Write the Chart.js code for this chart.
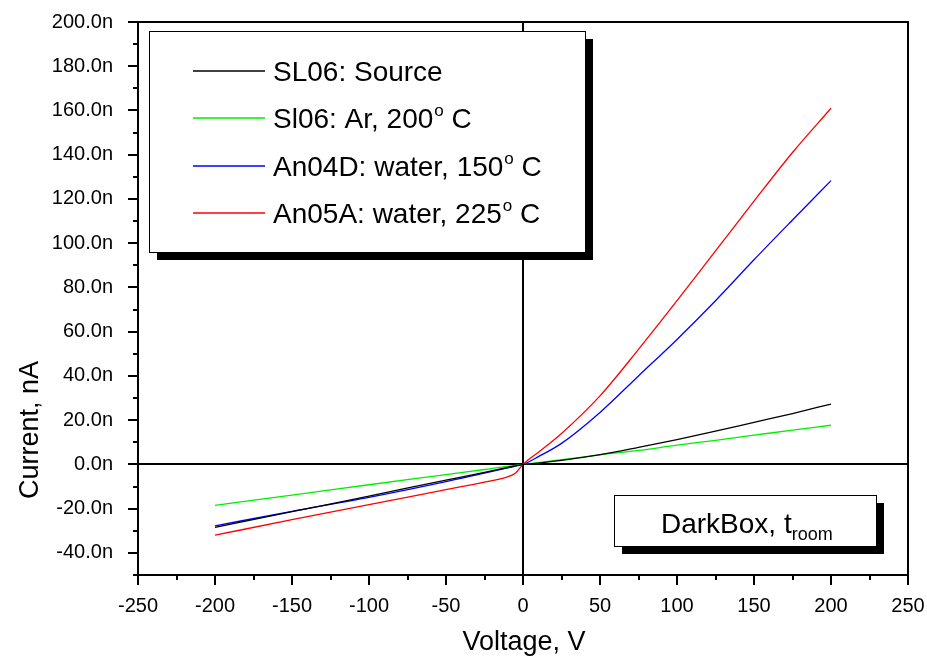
<!DOCTYPE html>
<html>
<head>
<meta charset="utf-8">
<script src="https://cdn.jsdelivr.net/npm/chart.js@4.4.0/dist/chart.umd.min.js"></script>
<style>
  html, body { margin: 0; padding: 0; background: #fff; }
  #wrap { width: 927px; height: 659px; }
</style>
</head>
<body>
<div id="wrap"><canvas id="ivChart" width="927" height="659"></canvas></div>
<script>
// I-V curves, current in nA
const voltage = [-200, -150, -100, -50, -25, -10, -5, 0, 10, 25, 50, 75, 100, 125, 150, 175, 200];
const sl06Source = [-28.5, -21.4, -14.3, -7.1, -3.6, -1.4, -0.7, 0, 0.6, 1.8, 4.4, 7.7, 11.2, 15, 19, 23, 27.3];
const sl06Ar = [-18.5, -13.9, -9.2, -4.6, -2.3, -0.9, -0.5, 0, 0.8, 2.1, 4.3, 6.3, 8.7, 10.9, 13.2, 15.5, 17.7];
const an04d = [-27.8, -21.2, -14.9, -7.8, -3.9, -1.6, -0.8, 0, 3.5, 9.5, 23.5, 40, 56.5, 74, 92.5, 110.5, 128.3];
const an05a = [-32, -25, -18.2, -11.4, -8, -5.6, -4, 0, 5.5, 14, 31, 52, 74, 96.5, 119, 141, 161];

const seriesLabels = ['SL06: Source', 'Sl06: Ar, 200^o C', 'An04D: water, 150^o C', 'An05A: water, 225^o C'];
const seriesColors = ['#000000', '#00ee00', '#0000ff', '#ff0000'];

const yTickValues = [-40, -20, 0, 20, 40, 60, 80, 100, 120, 140, 160, 180, 200];
const xTickValues = [-250, -200, -150, -100, -50, 0, 50, 100, 150, 200, 250];

const FONT = '"Liberation Sans", Arial, sans-serif';

function pts(ys) {
    return voltage.map((v, i) => ({ x: v, y: ys[i] }));
}

// draws text with ^o superscript parts
function richText(ctx, str, x, y, size) {
    const parts = str.split('^o');
    let cx = x;
    parts.forEach((p, i) => {
        ctx.font = size + 'px ' + FONT;
        ctx.fillText(p, cx, y);
        cx += ctx.measureText(p).width;
        if (i < parts.length - 1) {
            ctx.font = Math.round(size * 0.62) + 'px ' + FONT;
            ctx.fillText('o', cx + 1, y - size * 0.42);
            cx += ctx.measureText('o').width + 1;
        }
    });
}

function shadowBox(ctx, x, y, w, h, off) {
    ctx.fillStyle = '#000';
    ctx.fillRect(x + off, y + off, w, h);
    ctx.fillStyle = '#fff';
    ctx.fillRect(x, y, w, h);
    ctx.strokeStyle = '#000';
    ctx.lineWidth = 1;
    ctx.strokeRect(x + 0.5, y + 0.5, w, h);
}

const decor = {
    id: 'decor',
    beforeDatasetsDraw(chart) {
        const { ctx, chartArea: a, scales: { x, y } } = chart;
        ctx.save();
        ctx.strokeStyle = '#000';
        ctx.lineWidth = 2;
        const x0 = Math.round(x.getPixelForValue(0));
        const y0 = Math.round(y.getPixelForValue(0));
        ctx.beginPath();
        ctx.moveTo(x0, a.top); ctx.lineTo(x0, a.bottom);
        ctx.moveTo(a.left, y0); ctx.lineTo(a.right, y0);
        ctx.stroke();
        ctx.restore();
    },
    afterDatasetsDraw(chart) {
        const { ctx, chartArea: a, scales: { x, y } } = chart;
        ctx.save();
        // frame
        ctx.strokeStyle = '#000';
        ctx.lineWidth = 2;
        ctx.strokeRect(a.left, a.top, a.right - a.left, a.bottom - a.top);

        // ticks
        ctx.lineWidth = 2;
        ctx.beginPath();
        for (let v = -50; v <= 200; v += 10) {
            const py = Math.round(y.getPixelForValue(v));
            const len = v % 20 === 0 ? 10 : 5;
            ctx.moveTo(a.left - len, py); ctx.lineTo(a.left, py);
        }
        for (let v = -250; v <= 250; v += 25) {
            const px = Math.round(x.getPixelForValue(v));
            const len = v % 50 === 0 ? 10 : 5;
            ctx.moveTo(px, a.bottom); ctx.lineTo(px, a.bottom + len);
        }
        ctx.stroke();

        // axis titles
        ctx.fillStyle = '#000';
        ctx.font = '27px ' + FONT;
        ctx.textAlign = 'center';
        ctx.textBaseline = 'middle';
        ctx.fillText('Voltage, V', 524, 643);
        ctx.save();
        ctx.translate(31, 430);
        ctx.rotate(-Math.PI / 2);
        ctx.fillText('Current, nA', 0, 0);
        ctx.restore();

        // legend box
        ctx.textAlign = 'left';
        ctx.textBaseline = 'alphabetic';
        shadowBox(ctx, 149, 31, 436, 221, 8);
        const rows = [71, 118, 166, 213];
        chart.data.datasets.forEach((ds, i) => {
            ctx.strokeStyle = ds.borderColor;
            ctx.lineWidth = 1.5;
            ctx.beginPath();
            ctx.moveTo(193, rows[i]); ctx.lineTo(265, rows[i]);
            ctx.stroke();
            ctx.fillStyle = '#000';
            richText(ctx, ds.label, 273, rows[i] + 10, 28);
        });

        // DarkBox label
        shadowBox(ctx, 614, 495, 262, 51, 8);
        ctx.fillStyle = '#000';
        ctx.font = '28px ' + FONT;
        ctx.fillText('DarkBox, t', 661, 533);
        const w = ctx.measureText('DarkBox, t').width;
        ctx.font = '18px ' + FONT;
        ctx.fillText('room', 661 + w, 540);
        ctx.restore();
    }
};

const sets = [sl06Source, sl06Ar, an04d, an05a];

new Chart(document.getElementById('ivChart').getContext('2d'), {
    type: 'line',
    data: {
        datasets: sets.map((s, i) => ({
            label: seriesLabels[i],
            data: pts(s),
            borderColor: seriesColors[i],
            borderWidth: 1.3,
            pointRadius: 0,
            fill: false,
            cubicInterpolationMode: 'monotone'
        }))
    },
    options: {
        responsive: false,
        animation: false,
        layout: { padding: { top: 22, right: 19, left: 0, bottom: 0 } },
        plugins: {
            legend: { display: false },
            tooltip: { enabled: false }
        },
        scales: {
            x: {
                type: 'linear',
                min: -250,
                max: 250,
                afterBuildTicks: (s) => { s.ticks = xTickValues.map(v => ({ value: v })); },
                afterFit: (s) => { s.height = 84; s.paddingLeft = 0; s.paddingRight = 0; },
                grid: { display: false },
                border: { display: false },
                ticks: {
                    color: '#000',
                    font: { family: FONT, size: 20 },
                    padding: 11,
                    maxRotation: 0,
                    callback: (v) => String(v)
                }
            },
            y: {
                type: 'linear',
                min: -50,
                max: 200,
                afterBuildTicks: (s) => { s.ticks = yTickValues.map(v => ({ value: v })); },
                afterFit: (s) => { s.width = 138; s.paddingTop = 0; s.paddingBottom = 0; },
                grid: { display: false },
                border: { display: false },
                ticks: {
                    color: '#000',
                    font: { family: FONT, size: 20 },
                    padding: 17,
                    callback: (v) => v.toFixed(1) + 'n'
                }
            }
        }
    },
    plugins: [decor]
});
</script>
</body>
</html>
